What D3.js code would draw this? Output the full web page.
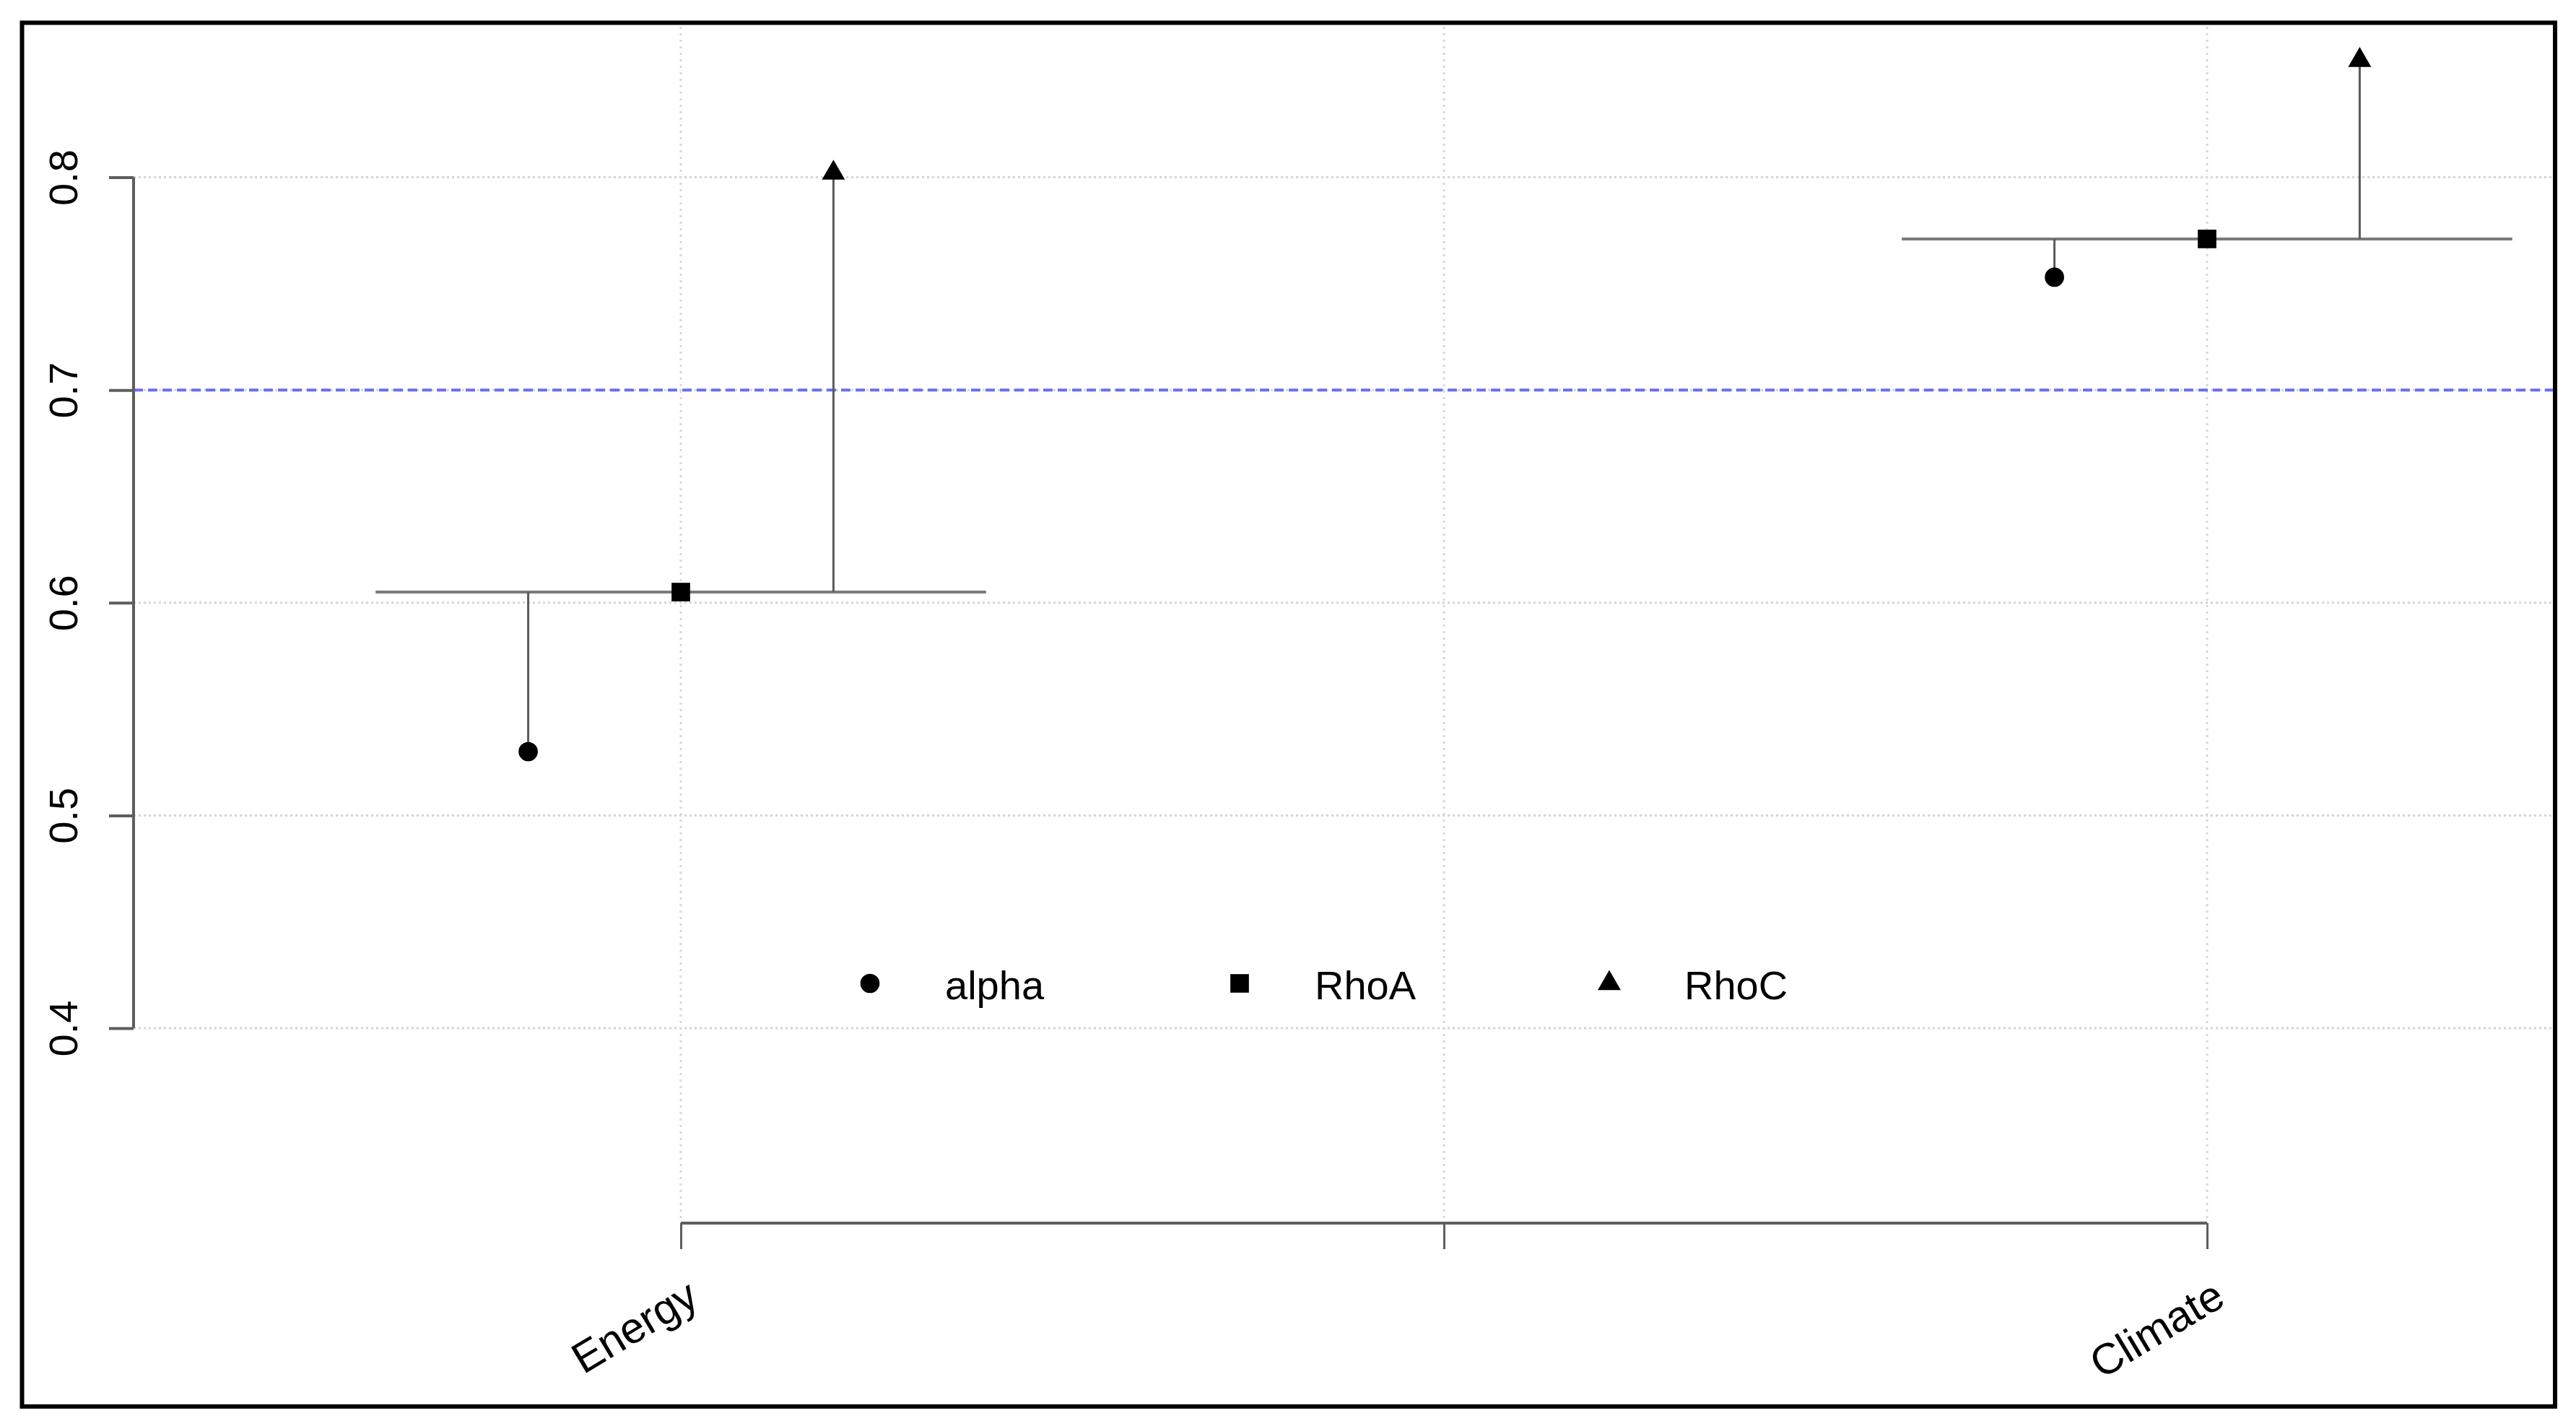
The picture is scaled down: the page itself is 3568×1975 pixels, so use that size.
<!DOCTYPE html>
<html>
<head>
<meta charset="utf-8">
<script src="https://cdn.jsdelivr.net/npm/d3@7"></script>
<style>
  body { margin: 0; background: #fff; }
  text { font-family: "Liberation Sans", Arial, sans-serif; fill: #000; }
</style>
</head>
<body>
<svg width="3568" height="1975"></svg>
<script>

//
// values
//
var categories = ["Energy", "Climate"];
var alphaValues = [0.530, 0.753];
var rhoAValues = [0.605, 0.771];
var rhoCValues = [0.802, 0.855];
var yTicks = [0.4, 0.5, 0.6, 0.7, 0.8];
var xGridTicks = [1, 1.5, 2];
var legendLabels = ["alpha", "RhoA", "RhoC"];
var threshold = 0.7;

var svg = d3.select("svg"),
    width = +svg.attr("width"),
    height = +svg.attr("height");

// plot region (R style, axes drawn at its edges)
var plot = {left: 185, right: 3536, top: 37, bottom: 1694};

var x = d3.scaleLinear().domain([1, 2]).range([943, 3057]);
var y = d3.scaleLinear().domain([0.4, 0.8]).range([1424, 245.5]);

var symbols = [
  d3.symbol().type(d3.symbolCircle).size(560),
  d3.symbol().type(d3.symbolSquare).size(660),
  d3.symbol().type(d3.symbolTriangle).size(440)
];

svg.append("rect").attr("width", width).attr("height", height).attr("fill", "#fff");

// grid
svg.append("g").selectAll("line")
  .data(yTicks).enter().append("line")
    .attr("x1", plot.left).attr("x2", plot.right)
    .attr("y1", d => y(d)).attr("y2", d => y(d))
    .attr("stroke", "#d4d4d4").attr("stroke-width", 3)
    .attr("stroke-dasharray", "3,4");

svg.append("g").selectAll("line")
  .data(xGridTicks).enter().append("line")
    .attr("x1", d => x(d)).attr("x2", d => x(d))
    .attr("y1", plot.top).attr("y2", plot.bottom)
    .attr("stroke", "#d8d8d8").attr("stroke-width", 3)
    .attr("stroke-dasharray", "3,6");

// threshold line
svg.append("line")
    .attr("x1", plot.left).attr("x2", plot.right)
    .attr("y1", y(threshold)).attr("y2", y(threshold))
    .attr("stroke", "#6c6cf6").attr("stroke-width", 4)
    .attr("stroke-dasharray", "13,7");

// y axis
var yAxis = svg.append("g").attr("transform", "translate(" + plot.left + ",0)")
    .call(d3.axisLeft(y).tickValues(yTicks).tickSize(34).tickFormat(d3.format(".1f")));
yAxis.select(".domain").remove();
yAxis.append("line")
    .attr("y1", y(0.4)).attr("y2", y(0.8))
    .attr("stroke", "#5e5e5e").attr("stroke-width", 4);
yAxis.selectAll(".tick line").attr("stroke", "#5e5e5e").attr("stroke-width", 4);
yAxis.selectAll(".tick text")
    .attr("x", 0).attr("dy", null)
    .attr("transform", "translate(-78,0) rotate(-90)")
    .attr("text-anchor", "middle")
    .attr("font-size", 56)
    .attr("font-family", "Liberation Sans, Arial, sans-serif");

// x axis
var xAxis = svg.append("g").attr("transform", "translate(0," + plot.bottom + ")")
    .call(d3.axisBottom(x).tickValues(xGridTicks).tickSize(36).tickFormat(""));
xAxis.select(".domain").remove();
xAxis.append("line")
    .attr("x1", x(1)).attr("x2", x(2))
    .attr("stroke", "#5e5e5e").attr("stroke-width", 4);
xAxis.selectAll(".tick line").attr("stroke", "#5e5e5e").attr("stroke-width", 3);

// rotated category labels
svg.append("g").selectAll("text")
  .data(categories).enter().append("text")
    .attr("transform", (d, i) => "translate(" + (x(i + 1) + 28) + ",1806) rotate(-31)")
    .attr("text-anchor", "end")
    .attr("font-size", 60)
    .text(d => d);

//
// per category: horizontal line at RhoA, stems to alpha and RhoC
//
var groups = svg.append("g").selectAll("g")
  .data(categories).enter().append("g");

groups.append("line")
    .attr("x1", (d, i) => x(i + 1 - 0.2)).attr("x2", (d, i) => x(i + 1 + 0.2))
    .attr("y1", (d, i) => y(rhoAValues[i])).attr("y2", (d, i) => y(rhoAValues[i]))
    .attr("stroke", "#7a7a7a").attr("stroke-width", 4);

groups.append("line")
    .attr("x1", (d, i) => x(i + 1 - 0.1)).attr("x2", (d, i) => x(i + 1 - 0.1))
    .attr("y1", (d, i) => y(rhoAValues[i])).attr("y2", (d, i) => y(alphaValues[i]))
    .attr("stroke", "#5a5a5a").attr("stroke-width", 3);

groups.append("line")
    .attr("x1", (d, i) => x(i + 1 + 0.1)).attr("x2", (d, i) => x(i + 1 + 0.1))
    .attr("y1", (d, i) => y(rhoAValues[i])).attr("y2", (d, i) => y(rhoCValues[i]))
    .attr("stroke", "#5a5a5a").attr("stroke-width", 3);

groups.append("path")
    .attr("d", symbols[0])
    .attr("transform", (d, i) => "translate(" + x(i + 1 - 0.1) + "," + y(alphaValues[i]) + ")");
groups.append("path")
    .attr("d", symbols[1])
    .attr("transform", (d, i) => "translate(" + x(i + 1) + "," + y(rhoAValues[i]) + ")");
groups.append("path")
    .attr("d", symbols[2])
    .attr("transform", (d, i) => "translate(" + x(i + 1 + 0.1) + "," + y(rhoCValues[i]) + ")");

// legend
var legend = svg.append("g").selectAll("g")
  .data(legendLabels).enter().append("g")
    .attr("transform", (d, i) => "translate(" + (1205 + i * 512) + ",1362)");
legend.append("path").attr("d", (d, i) => symbols[i]());
legend.append("text")
    .attr("x", 104).attr("y", 22)
    .attr("font-size", 56)
    .text(d => d);

// figure frame
svg.append("rect")
    .attr("x", 30.5).attr("y", 31.5)
    .attr("width", 3539 - 30.5).attr("height", 1948 - 31.5)
    .attr("fill", "none").attr("stroke", "#000").attr("stroke-width", 6);

</script>
</body>
</html>
